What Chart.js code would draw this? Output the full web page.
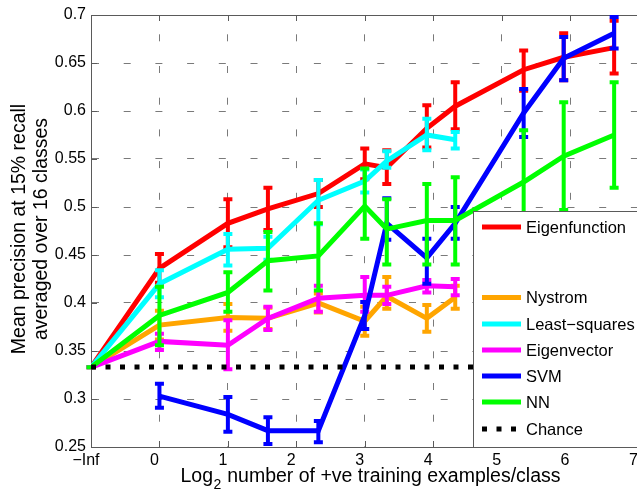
<!DOCTYPE html>
<html>
<head>
<meta charset="utf-8">
<script src="https://cdn.jsdelivr.net/npm/chart.js@4"></script>
<style>
  html, body { margin: 0; padding: 0; background: #fff; }
  #wrap { width: 637px; height: 490px; overflow: hidden; position: relative; }
  canvas { display: block; }
</style>
</head>
<body>
<div id="wrap"><canvas id="chart" width="660" height="490" style="width:660px;height:490px"></canvas></div>
<script>
// data (x = log2 of examples per class, -1 stands for -Inf)
const xPos = [-1, 0, 1, 1.585, 2.322, 3, 3.322, 3.907, 4.322, 5.322, 5.907, 6.644];
const xTickLabels = ['−Inf', '0', '1', '2', '3', '4', '5', '6', '7'];

const eigfnMean = [0.333, 0.436, 0.483, 0.498, 0.514, 0.545, 0.541, 0.582, 0.605, 0.643, 0.656, 0.666];
const eigfnLo   = [0.333, 0.421, 0.458, 0.476, 0.500, 0.529, 0.524, 0.562, 0.581, 0.621, 0.632, 0.639];
const eigfnHi   = [0.333, 0.451, 0.508, 0.520, 0.528, 0.561, 0.559, 0.606, 0.630, 0.663, 0.681, 0.694];

const nystMean = [0.333, 0.377, 0.385, 0.384, 0.400, 0.381, 0.407, 0.384, 0.406];
const nystLo   = [0.333, 0.362, 0.371, 0.373, 0.390, 0.366, 0.394, 0.370, 0.394];
const nystHi   = [0.333, 0.392, 0.399, 0.395, 0.410, 0.396, 0.427, 0.398, 0.418];

const lsqMean = [0.333, 0.420, 0.456, 0.457, 0.507, 0.527, 0.548, 0.575, 0.570];
const lsqLo   = [0.333, 0.406, 0.439, 0.445, 0.482, 0.515, 0.541, 0.559, 0.561];
const lsqHi   = [0.333, 0.434, 0.472, 0.469, 0.528, 0.539, 0.558, 0.592, 0.578];

const eigvecMean = [0.333, 0.360, 0.356, 0.384, 0.405, 0.408, 0.408, 0.418, 0.417];
const eigvecLo   = [0.333, 0.351, 0.331, 0.372, 0.391, 0.391, 0.399, 0.411, 0.408];
const eigvecHi   = [0.333, 0.368, 0.382, 0.396, 0.418, 0.427, 0.417, 0.424, 0.425];

const svmMean = [null, 0.303, 0.284, 0.267, 0.267, 0.387, 0.483, 0.447, 0.483, 0.598, 0.655, 0.681];
const svmLo   = [null, 0.291, 0.266, 0.253, 0.255, 0.373, 0.466, 0.420, 0.467, 0.573, 0.632, 0.665];
const svmHi   = [null, 0.316, 0.302, 0.281, 0.277, 0.401, 0.509, 0.467, 0.500, 0.623, 0.677, 0.698];

const nnMean = [0.333, 0.387, 0.411, 0.444, 0.449, 0.501, 0.477, 0.486, 0.486, 0.526, 0.553, 0.575];
const nnLo   = [0.333, 0.356, 0.391, 0.413, 0.413, 0.467, 0.440, 0.440, 0.440, 0.472, 0.497, 0.520];
const nnHi   = [0.333, 0.417, 0.432, 0.474, 0.483, 0.540, 0.508, 0.524, 0.531, 0.580, 0.609, 0.630];

const chanceX = [-1, 7];
const chanceY = [0.3333, 0.3333];

const FONT = '"Liberation Sans", Arial, sans-serif';

function pts(mean, lo, hi) {
    const out = [];
    mean.forEach((m, i) => {
        if (m == null) return;
        out.push({ x: xPos[i], y: m, lo: lo[i], hi: hi[i] });
    });
    return out;
}

function series(label, color, mean, lo, hi, order) {
    return {
        label, order,
        data: pts(mean, lo, hi),
        borderColor: color, backgroundColor: color,
        borderWidth: 5, pointRadius: 0, showLine: true, tension: 0,
        errBars: true
    };
}

// error bars drawn right after their own line so the stacking stays right
const errorBars = {
    id: 'errorBars',
    afterDatasetDraw(chart, args) {
        const ds = chart.data.datasets[args.index];
        if (!ds.errBars) return;
        const ctx = chart.ctx, xs = chart.scales.x, ys = chart.scales.y;
        ctx.save();
        ctx.strokeStyle = ds.borderColor;
        ctx.lineWidth = 4;
        ctx.lineCap = 'butt';
        ds.data.forEach(p => {
            const px = xs.getPixelForValue(p.x);
            const top = ys.getPixelForValue(p.hi);
            const bot = ys.getPixelForValue(p.lo);
            ctx.beginPath();
            ctx.moveTo(px, top); ctx.lineTo(px, bot);
            ctx.moveTo(px - 4.5, top); ctx.lineTo(px + 4.5, top);
            ctx.moveTo(px - 4.5, bot); ctx.lineTo(px + 4.5, bot);
            ctx.stroke();
        });
        ctx.restore();
    }
};

// axes box + inward ticks, matlab style
const axesBox = {
    id: 'axesBox',
    beforeDatasetsDraw(chart) {
        const ctx = chart.ctx, a = chart.chartArea;
        ctx.save();
        ctx.strokeStyle = '#5a5a5a';
        ctx.lineWidth = 1;
        ctx.strokeRect(Math.round(a.left) + 0.5, Math.round(a.top) + 0.5, a.right - a.left, a.bottom - a.top);
        ctx.beginPath();
        chart.scales.x.ticks.forEach(t => {
            const x = Math.round(chart.scales.x.getPixelForValue(t.value)) + 0.5;
            ctx.moveTo(x, a.bottom); ctx.lineTo(x, a.bottom - 6);
            ctx.moveTo(x, a.top); ctx.lineTo(x, a.top + 6);
        });
        chart.scales.y.ticks.forEach(t => {
            const y = Math.round(chart.scales.y.getPixelForValue(t.value)) + 0.5;
            ctx.moveTo(a.left, y); ctx.lineTo(a.left + 6, y);
        });
        ctx.stroke();
        ctx.restore();
    }
};

const axisTitles = {
    id: 'axisTitles',
    afterDraw(chart) {
        const ctx = chart.ctx;
        ctx.save();
        ctx.fillStyle = '#000';
        ctx.textBaseline = 'alphabetic';
        ctx.textAlign = 'left';
        ctx.font = '19.5px ' + FONT;
        let x = 180.5;
        const y = 482;
        ctx.fillText('Log', x, y);
        x += ctx.measureText('Log').width;
        ctx.font = '14px ' + FONT;
        ctx.fillText('2', x + 0.5, y + 7);
        x += ctx.measureText('2').width + 1;
        ctx.font = '19.5px ' + FONT;
        ctx.fillText(' number of +ve training examples/class', x, y);

        ctx.textAlign = 'center';
        ctx.font = '19.5px ' + FONT;
        ctx.save();
        ctx.translate(25, 229); ctx.rotate(-Math.PI / 2);
        ctx.fillText('Mean precision at 15% recall', 0, 0);
        ctx.restore();
        ctx.save();
        ctx.translate(47, 229); ctx.rotate(-Math.PI / 2);
        ctx.fillText('averaged over 16 classes', 0, 0);
        ctx.restore();
        ctx.restore();
    }
};

const legendBox = {
    id: 'legendBox',
    afterDraw(chart) {
        const ctx = chart.ctx;
        const left = 473.5, top = 211.5, bottom = 447.5;
        ctx.save();
        ctx.fillStyle = '#fff';
        ctx.fillRect(left, top, 200, bottom - top);
        ctx.strokeStyle = '#5a5a5a';
        ctx.lineWidth = 1;
        ctx.strokeRect(left, top, 200, bottom - top);
        // legend order as in the figure, with the two blank entries after the first
        const byLabel = {};
        chart.data.datasets.forEach(d => byLabel[d.label] = d);
        const rows = [['Eigenfunction', 227], ['Nystrom', 297.5], ['Least−squares', 324], ['Eigenvector', 350],
                      ['SVM', 376], ['NN', 402], ['Chance', 429]];
        ctx.font = '16.5px ' + FONT;
        ctx.textBaseline = 'middle';
        ctx.textAlign = 'left';
        rows.forEach(([lab, y]) => {
            const d = byLabel[lab];
            ctx.beginPath();
            ctx.strokeStyle = d.borderColor;
            ctx.lineWidth = 5;
            ctx.lineCap = 'butt';
            ctx.setLineDash(d.borderDash || []);
            ctx.moveTo(482, y); ctx.lineTo(521, y);
            ctx.stroke();
            ctx.setLineDash([]);
            ctx.fillStyle = '#000';
            ctx.fillText(lab, 526, y + 1);
        });
        ctx.restore();
    }
};

const datasets = [
    {
        label: 'Chance', order: 0,
        data: chanceX.map((x, i) => ({ x, y: chanceY[i] })),
        borderColor: '#000', backgroundColor: '#000',
        borderWidth: 5, borderDash: [5, 9.5], borderCapStyle: 'butt',
        pointRadius: 0, showLine: true
    },
    series('NN', '#00ff00', nnMean, nnLo, nnHi, 1),
    series('SVM', '#0000ff', svmMean, svmLo, svmHi, 2),
    series('Eigenvector', '#ff00ff', eigvecMean, eigvecLo, eigvecHi, 3),
    series('Least−squares', '#00ffff', lsqMean, lsqLo, lsqHi, 4),
    series('Nystrom', '#ffa500', nystMean, nystLo, nystHi, 5),
    series('Eigenfunction', '#ff0000', eigfnMean, eigfnLo, eigfnHi, 6)
];

new Chart(document.getElementById('chart'), {
    type: 'scatter',
    data: { datasets },
    plugins: [axesBox, errorBars, axisTitles, legendBox],
    options: {
        responsive: false,
        animation: false,
        devicePixelRatio: 1,
        layout: { padding: { left: 0, top: 15, right: 21.5, bottom: 0 } },
        plugins: { legend: { display: false }, tooltip: { enabled: false } },
        scales: {
            x: {
                type: 'linear', min: -1, max: 7,
                afterFit: s => { s.height = 43; },
                afterBuildTicks: s => { s.ticks = xTickLabels.map((_, i) => ({ value: i - 1 })); },
                ticks: {
                    stepSize: 1, padding: 4, labelOffset: -5,
                    color: '#000', font: { family: FONT, size: 16 },
                    callback: (v, i) => xTickLabels[i]
                },
                grid: { color: '#7a7a7a', lineWidth: 1, drawTicks: false },
                border: { display: true, color: '#5a5a5a', width: 1, dash: [7, 24.7], dashOffset: 12.4 }
            },
            y: {
                min: 0.25, max: 0.7,
                afterFit: s => { s.width = 91; },
                ticks: {
                    stepSize: 0.05, padding: 5,
                    color: '#000', font: { family: FONT, size: 16 },
                    callback: v => String(+v.toFixed(2))
                },
                grid: { color: '#7a7a7a', lineWidth: 1, drawTicks: false },
                border: { display: true, color: '#5a5a5a', width: 1, dash: [7, 24.7], dashOffset: 0 }
            }
        }
    }
});
</script>
</body>
</html>
